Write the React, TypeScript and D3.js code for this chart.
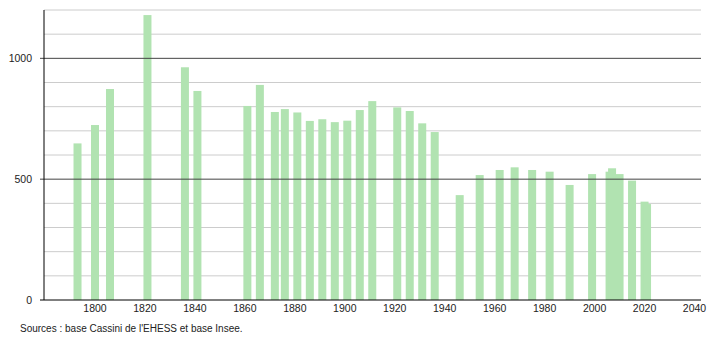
import React from "react";
import * as d3 from "d3";

const years = [1793, 1800, 1806, 1821, 1836, 1841, 1861, 1866, 1872, 1876, 1881, 1886, 1891, 1896, 1901, 1906, 1911, 1921, 1926, 1931, 1936, 1946, 1954, 1962, 1968, 1975, 1982, 1990, 1999, 2006, 2007, 2010, 2015, 2020, 2021];
const population = [648, 724, 873, 1179, 963, 865, 803, 890, 778, 790, 776, 741, 748, 736, 742, 786, 823, 797, 782, 731, 695, 434, 517, 538, 549, 538, 531, 476, 521, 531, 545, 521, 494, 407, 397];
const xTicks = [1800, 1820, 1840, 1860, 1880, 1900, 1920, 1940, 1960, 1980, 2000, 2020, 2040];
const yLabelTicks = [0, 500, 1000];
const yGridTicks = [100, 200, 300, 400, 600, 700, 800, 900, 1100, 1200];
const source = "Sources : base Cassini de l'EHESS et base Insee.";

export default function App() {
  const left = 44, right = 701, top = 10, bottom = 300;
  const x = d3.scaleLinear().domain([1800, 2040]).range([95, 694.5]);
  const y = d3.scaleLinear().domain([0, 1200]).range([bottom, top]);
  const barW = 8;
  const font = "'Liberation Sans', Arial, sans-serif";
  return (
    <svg width={710} height={340} style={{ position: "absolute", left: 0, top: 0, background: "#fff" }} fontFamily={font}>
      {yGridTicks.map((t) => (
        <line key={"g" + t} x1={left} x2={right} y1={y(t)} y2={y(t)} stroke="#cccccc" strokeWidth={1} />
      ))}
      {years.map((yr, i) => (
        <rect key={yr} x={x(yr) - barW / 2} y={y(population[i])} width={barW} height={y(0) - y(population[i])} fill="#b1e3b1" />
      ))}
      {yLabelTicks.filter((t) => t > 0).map((t) => (
        <line key={"m" + t} x1={40} x2={right} y1={y(t)} y2={y(t)} stroke="#444" strokeWidth={1} />
      ))}
      <line x1={left} x2={left} y1={top} y2={bottom} stroke="#000" strokeWidth={1} />
      <line x1={40} x2={right} y1={bottom} y2={bottom} stroke="#000" strokeWidth={1} />
      {yLabelTicks.map((t) => (
        <text key={"yl" + t} x={32} y={y(t) + 4} textAnchor="end" fontSize={10.5} fill="#222">{t}</text>
      ))}
      {xTicks.map((t) => (
        <text key={"xl" + t} x={x(t)} y={312} textAnchor="middle" fontSize={10.5} fill="#222">{t}</text>
      ))}
      <text x={20} y={332} fontSize={10} fill="#222">{source}</text>
    </svg>
  );
}
